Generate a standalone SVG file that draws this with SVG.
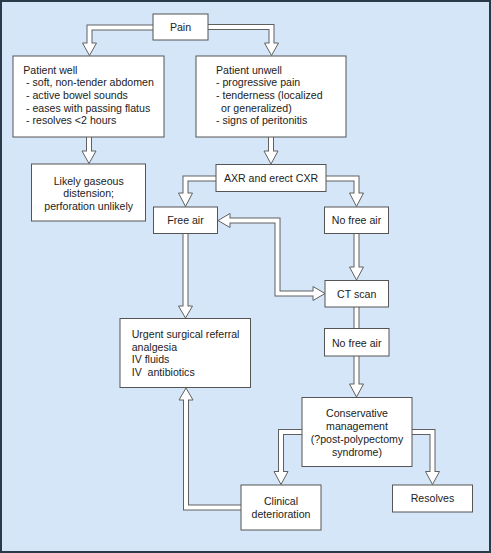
<svg xmlns="http://www.w3.org/2000/svg" width="491" height="553" viewBox="0 0 491 553">
<style>
.bg{fill:#d5e6f8;stroke:#2b3a48;stroke-width:2}
.box{fill:#fff;stroke:#555;stroke-width:1}
.so{fill:none;stroke:#606060;stroke-width:6;stroke-linejoin:miter}
.si{fill:none;stroke:#fff;stroke-width:4;stroke-linejoin:miter}
.hd{fill:#fff;stroke:#606060;stroke-width:1;stroke-linejoin:miter}
text{font-family:"Liberation Sans",Arial,sans-serif;font-size:10.6px;fill:#222}
.c{text-anchor:middle}
</style>
<rect class="bg" x="1" y="1" width="489" height="551"/>
<g id="connectors">
<path class="so" d="M153,27.5 H89.5 V43"/><polygon class="hd" points="82.5,43 96.5,43 89.5,55.5"/><path class="si" d="M153,27.5 H89.5 V44.5"/>
<path class="so" d="M208,27 H271.5 V43"/><polygon class="hd" points="264.5,43 278.5,43 271.5,55.5"/><path class="si" d="M208,27 H271.5 V44.5"/>
<path class="so" d="M89,137 V151"/><polygon class="hd" points="82,151 96,151 89,163.5"/><path class="si" d="M89,137 V152.5"/>
<path class="so" d="M271,137 V151"/><polygon class="hd" points="264,151 278,151 271,164"/><path class="si" d="M271,137 V152.5"/>
<path class="so" d="M216,178.5 H185.5 V193"/><polygon class="hd" points="178.5,193 192.5,193 185.5,206.5"/><path class="si" d="M216,178.5 H185.5 V194.5"/>
<path class="so" d="M326,178.5 H356.5 V193"/><polygon class="hd" points="349.5,193 363.5,193 356.5,206.5"/><path class="si" d="M326,178.5 H356.5 V194.5"/>
<path class="so" d="M230,220.5 H277.5 V293.5 H313"/><polygon class="hd" points="230,213.5 230,227.5 218,220.5"/><polygon class="hd" points="313,286.5 313,300.5 325,293.5"/><path class="si" d="M228.5,220.5 H277.5 V293.5 H314.5"/>
<path class="so" d="M356.5,233.5 V267"/><polygon class="hd" points="349.5,267 363.5,267 356.5,280"/><path class="si" d="M356.5,233.5 V268.5"/>
<path class="so" d="M356.5,307 V328.5"/><path class="si" d="M356.5,307 V328.5"/>
<path class="so" d="M356.5,356 V384"/><polygon class="hd" points="349.5,384 363.5,384 356.5,397"/><path class="si" d="M356.5,356 V385.5"/>
<path class="so" d="M185.5,233.5 V306"/><polygon class="hd" points="178.5,306 192.5,306 185.5,318"/><path class="si" d="M185.5,233.5 V307.5"/>
<path class="so" d="M302,432 H281 V471.5"/><polygon class="hd" points="274,471.5 288,471.5 281,484.5"/><path class="si" d="M302,432 H281 V473"/>
<path class="so" d="M412,432 H432.5 V471.5"/><polygon class="hd" points="425.5,471.5 439.5,471.5 432.5,484.5"/><path class="si" d="M412,432 H432.5 V473"/>
<path class="so" d="M241,507.5 H186 V400"/><polygon class="hd" points="179,400 193,400 186,388"/><path class="si" d="M241,507.5 H186 V398.5"/>
</g>
<g id="pain"><rect class="box" x="153" y="14" width="55" height="26"/><text class="c" x="180.5" y="30.8">Pain</text></g>
<g id="patient-well"><rect class="box" x="13" y="56" width="151" height="81"/>
<text x="23.3" y="73.5">Patient well</text>
<text x="26" y="86.2">- soft, non-tender abdomen</text>
<text x="26" y="98.9">- active bowel sounds</text>
<text x="26" y="111.6">- eases with passing flatus</text>
<text x="26" y="124.3">- resolves &lt;2 hours</text></g>
<g id="patient-unwell"><rect class="box" x="196" y="56" width="150" height="81"/>
<text x="216" y="73.5">Patient unwell</text>
<text x="216" y="86.2">- progressive pain</text>
<text x="216" y="98.9">- tenderness (localized</text>
<text x="221" y="111.6">or generalized)</text>
<text x="216" y="124.3">- signs of peritonitis</text></g>
<g id="likely"><rect class="box" x="31.5" y="164" width="114" height="57"/>
<text class="c" x="88.7" y="184.5">Likely gaseous</text>
<text class="c" x="88.7" y="197">distension;</text>
<text class="c" x="88.7" y="209.5">perforation unlikely</text></g>
<g id="axr"><rect class="box" x="216" y="164.5" width="110" height="27"/><text class="c" x="271" y="182">AXR and erect CXR</text></g>
<g id="free-air"><rect class="box" x="153.5" y="207" width="64" height="26.5"/><text class="c" x="185.5" y="224.3">Free air</text></g>
<g id="no-free-air-1"><rect class="box" x="324.5" y="207" width="64" height="26.5"/><text class="c" x="356.5" y="224.3">No free air</text></g>
<g id="ct-scan"><rect class="box" x="325" y="280.5" width="63.5" height="26.5"/><text class="c" x="356.7" y="297.7">CT scan</text></g>
<g id="no-free-air-2"><rect class="box" x="324.5" y="328.5" width="64.5" height="27.5"/><text class="c" x="356.7" y="346.8">No free air</text></g>
<g id="urgent"><rect class="box" x="120" y="318.5" width="130.5" height="69"/>
<text x="131.7" y="338">Urgent surgical referral</text>
<text x="131.7" y="350.6">analgesia</text>
<text x="131.7" y="363.2">IV fluids</text>
<text x="131.7" y="375.8" xml:space="preserve">IV  antibiotics</text></g>
<g id="conservative"><rect class="box" x="302" y="397.5" width="110" height="69"/>
<text class="c" x="357" y="416.5">Conservative</text>
<text class="c" x="357" y="429.5">management</text>
<text class="c" x="357" y="442.5">(?post-polypectomy</text>
<text class="c" x="357" y="455.5">syndrome)</text></g>
<g id="clinical"><rect class="box" x="241" y="485" width="80" height="45"/>
<text class="c" x="281" y="505">Clinical</text>
<text class="c" x="281" y="518">deterioration</text></g>
<g id="resolves"><rect class="box" x="392.5" y="485" width="80" height="27"/><text class="c" x="432.5" y="502.3">Resolves</text></g>
</svg>
